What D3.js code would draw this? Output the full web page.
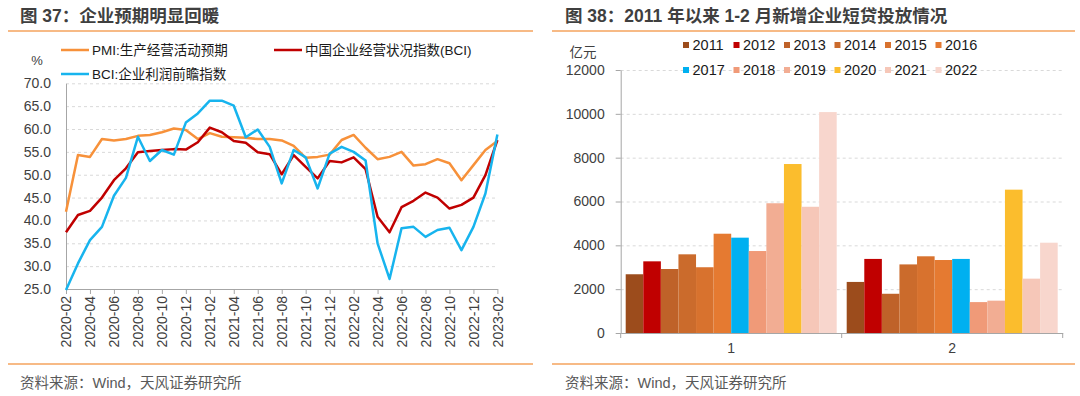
<!DOCTYPE html>
<html>
<head>
<meta charset="utf-8">
<script src="https://d3js.org/d3.v7.min.js"></script>
<style>
  html, body { margin: 0; padding: 0; background: #fff; }
  svg { display: block; font-family: "Liberation Sans", "Noto Sans CJK SC", sans-serif; }
  .axis path, .axis line { stroke: #a6a6a6; }
  .axis text { fill: #404040; font-size: 14px; }
  .grid line { stroke: #d9d9d9; stroke-dasharray: 3,3; }
  .grid path { display: none; }
</style>
</head>
<body>
<svg id="chart" width="1080" height="396"></svg>
<script>
// ---- left chart data: monthly index, 2020-02 .. 2023-02
const months = [
  "2020-02","2020-03","2020-04","2020-05","2020-06","2020-07","2020-08","2020-09","2020-10","2020-11","2020-12",
  "2021-01","2021-02","2021-03","2021-04","2021-05","2021-06","2021-07","2021-08","2021-09","2021-10","2021-11","2021-12",
  "2022-01","2022-02","2022-03","2022-04","2022-05","2022-06","2022-07","2022-08","2022-09","2022-10","2022-11","2022-12",
  "2023-01","2023-02"
];
const pmiExpect = [41.9, 54.3, 53.9, 57.8, 57.5, 57.8, 58.5, 58.7, 59.3, 60.1, 59.8, 57.8,
                   59.1, 58.3, 58.2, 58.1, 57.8, 57.8, 57.5, 56.3, 53.7, 53.9, 54.4, 57.6,
                   58.7, 55.9, 53.4, 53.9, 55.0, 52.0, 52.3, 53.4, 52.5, 48.8, 52.1, 55.4, 57.4];
const bciIndex = [37.4, 41.2, 42.1, 45.0, 48.8, 51.4, 54.9, 55.2, 55.4, 55.6, 55.5, 57.1,
                  60.3, 59.3, 57.4, 57.0, 54.9, 54.5, 50.1, 54.3, 51.7, 49.2, 53.0, 52.7,
                  53.8, 51.2, 40.8, 37.4, 42.9, 44.3, 46.1, 45.0, 42.6, 43.4, 45.0, 49.9, 57.6];
const bciProfit = [24.8, 30.6, 35.7, 38.6, 45.4, 49.3, 58.3, 53.0, 55.4, 54.4, 61.4, 63.4,
                   66.2, 66.2, 65.1, 58.2, 59.9, 56.1, 48.1, 55.4, 53.8, 47.0, 54.6, 56.1,
                   55.0, 53.1, 35.0, 27.2, 38.3, 38.6, 36.4, 37.9, 38.4, 33.5, 38.6, 45.9, 58.8];
const leftTicks = [25, 30, 35, 40, 45, 50, 55, 60, 65, 70];

// ---- right chart data: new corporate short-term loans, Jan and Feb (亿元)
const groups = ["1", "2"];
const years = ["2011","2012","2013","2014","2015","2016","2017","2018","2019","2020","2021","2022"];
const janLoans = [2680, 3270, 2920, 3590, 3000, 4530, 4350, 3740, 5920, 7710, 5760, 10080];
const febLoans = [2330, 3380, 1790, 3130, 3500, 3330, 3380, 1410, 1475, 6540, 2480, 4120];
const rightTicks = [0, 2000, 4000, 6000, 8000, 10000, 12000];

const yearColors = ["#9c4c1c","#c00000","#bf6229","#cb6b2c","#d8722e","#e57a31",
                    "#00b0f0","#f09a78","#f2ad93","#fbbd2d","#f6c7b8","#f8d6cd"];

const svg = d3.select("#chart");
svg.append("rect").attr("width", 1080).attr("height", 396).attr("fill", "#fff");

// titles, separators, sources
function frame(x0, x1, tx, title) {
  svg.append("text").attr("x", tx).attr("y", 22)
    .attr("font-size", 17.5).attr("font-weight", "bold").attr("fill", "#3f3f3f")
    .text(title);
  svg.append("line").attr("x1", x0).attr("x2", x1).attr("y1", 31).attr("y2", 31)
    .attr("stroke", "#f5a35e").attr("stroke-width", 1.5);
  svg.append("line").attr("x1", x0).attr("x2", x1).attr("y1", 364).attr("y2", 364)
    .attr("stroke", "#f5a35e").attr("stroke-width", 1.5);
  svg.append("text").attr("x", tx).attr("y", 383).attr("dy", "0.35em")
    .attr("font-size", 14.5).attr("fill", "#595959")
    .text("资料来源：Wind，天风证券研究所");
}
frame(8, 533, 20, "图 37：企业预期明显回暖");
frame(552, 1075, 565, "图 38：2011 年以来 1-2 月新增企业短贷投放情况");

// ================= left line chart =================
const x = d3.scalePoint().domain(months).range([66, 497.4]);
const y = d3.scaleLinear().domain([25, 70]).range([289, 83.3]);

svg.append("g").attr("class", "grid")
  .attr("transform", "translate(66,0)")
  .call(d3.axisLeft(y).tickValues(leftTicks.slice(1)).tickSize(-(497.4 - 66)).tickFormat(""));

svg.append("g").attr("class", "axis")
  .attr("transform", "translate(66,0)")
  .call(d3.axisLeft(y).tickValues(leftTicks).tickFormat(d3.format(".1f")).tickSize(0).tickPadding(15));

const xAxis = svg.append("g").attr("class", "axis")
  .attr("transform", "translate(0,289)")
  .call(d3.axisBottom(x).tickValues(months.filter((d, i) => i % 2 === 0)).tickSize(5).tickSizeOuter(0));
xAxis.selectAll("text")
  .attr("transform", "rotate(-90)")
  .attr("text-anchor", "end")
  .attr("x", -7).attr("y", 0).attr("dy", "0.35em");

svg.append("text").attr("x", 37).attr("y", 60).attr("dy", "0.35em")
  .attr("text-anchor", "middle").attr("font-size", 13).attr("fill", "#404040").text("%");

const leftSeries = [
  { name: "PMI:生产经营活动预期", values: pmiExpect, color: "#f7913a", lx: 61, ly: 50 },
  { name: "中国企业经营状况指数(BCI)", values: bciIndex, color: "#c00000", lx: 274, ly: 50 },
  { name: "BCI:企业利润前瞻指数", values: bciProfit, color: "#17b4ee", lx: 61, ly: 74 }
];

const line = d3.line().x((d, i) => x(months[i])).y(d => y(d));
svg.append("g").selectAll("path").data(leftSeries).join("path")
  .attr("d", d => line(d.values))
  .attr("fill", "none")
  .attr("stroke", d => d.color)
  .attr("stroke-width", 2.5)
  .attr("stroke-linejoin", "round");

const leftLegend = svg.append("g").selectAll("g").data(leftSeries).join("g")
  .attr("transform", d => "translate(" + d.lx + "," + d.ly + ")");
leftLegend.append("line").attr("x1", 0).attr("x2", 28)
  .attr("stroke", d => d.color).attr("stroke-width", 2.5);
leftLegend.append("text").attr("x", 31).attr("dy", "0.35em")
  .attr("font-size", 13.5).attr("fill", "#1a1a1a")
  .text(d => d.name);

// ================= right bar chart =================
const x0 = d3.scaleBand().domain(groups).range([620.7, 1062.7]);
const x1 = d3.scaleBand().domain(years).range([5, x0.bandwidth() - 5]);
const yR = d3.scaleLinear().domain([0, 12000]).range([333, 70]);

svg.append("g").attr("class", "grid")
  .attr("transform", "translate(620.7,0)")
  .call(d3.axisLeft(yR).tickValues(rightTicks.slice(1)).tickSize(-(1062.7 - 620.7)).tickFormat(""));

svg.append("g").attr("class", "axis")
  .attr("transform", "translate(620.7,0)")
  .call(d3.axisLeft(yR).tickValues(rightTicks).tickFormat(d3.format("d"))
    .tickSize(5).tickSizeOuter(0).tickPadding(11))
  .selectAll("text").attr("font-size", 13.5);

const loans = groups.map((g, gi) => ({
  group: g,
  values: years.map((yr, i) => ({ year: yr, value: gi === 0 ? janLoans[i] : febLoans[i], color: yearColors[i] }))
}));

svg.append("g").selectAll("g").data(loans).join("g")
  .attr("transform", d => "translate(" + x0(d.group) + ",0)")
  .selectAll("rect").data(d => d.values).join("rect")
  .attr("x", d => x1(d.year))
  .attr("width", x1.bandwidth())
  .attr("y", d => yR(d.value))
  .attr("height", d => yR(0) - yR(d.value))
  .attr("fill", d => d.color);

const xAxisR = svg.append("g").attr("class", "axis")
  .attr("transform", "translate(0,333)")
  .call(d3.axisBottom(x0).tickSize(0).tickPadding(10));
xAxisR.selectAll("text").attr("font-size", 14);
xAxisR.selectAll(".edge").data([620.7, 841.7, 1062.7]).join("line")
  .attr("class", "edge").attr("x1", d => d).attr("x2", d => d)
  .attr("y1", 0).attr("y2", 5).attr("stroke", "#a6a6a6");

svg.append("text").attr("x", 583).attr("y", 52).attr("dy", "0.35em")
  .attr("text-anchor", "middle").attr("font-size", 13.5).attr("fill", "#404040").text("亿元");

const rightLegend = svg.append("g").selectAll("g").data(years).join("g")
  .attr("transform", (d, i) => "translate(" + (683 + (i % 6) * 50.5) + "," + (i < 6 ? 45 : 70) + ")");
rightLegend.append("rect").attr("x", 0).attr("y", -3).attr("width", 6).attr("height", 6)
  .attr("fill", (d, i) => yearColors[i]);
rightLegend.append("text").attr("x", 9.5).attr("dy", "0.35em")
  .attr("font-size", 14.5).attr("fill", "#1a1a1a").text(d => d);
</script>
</body>
</html>
